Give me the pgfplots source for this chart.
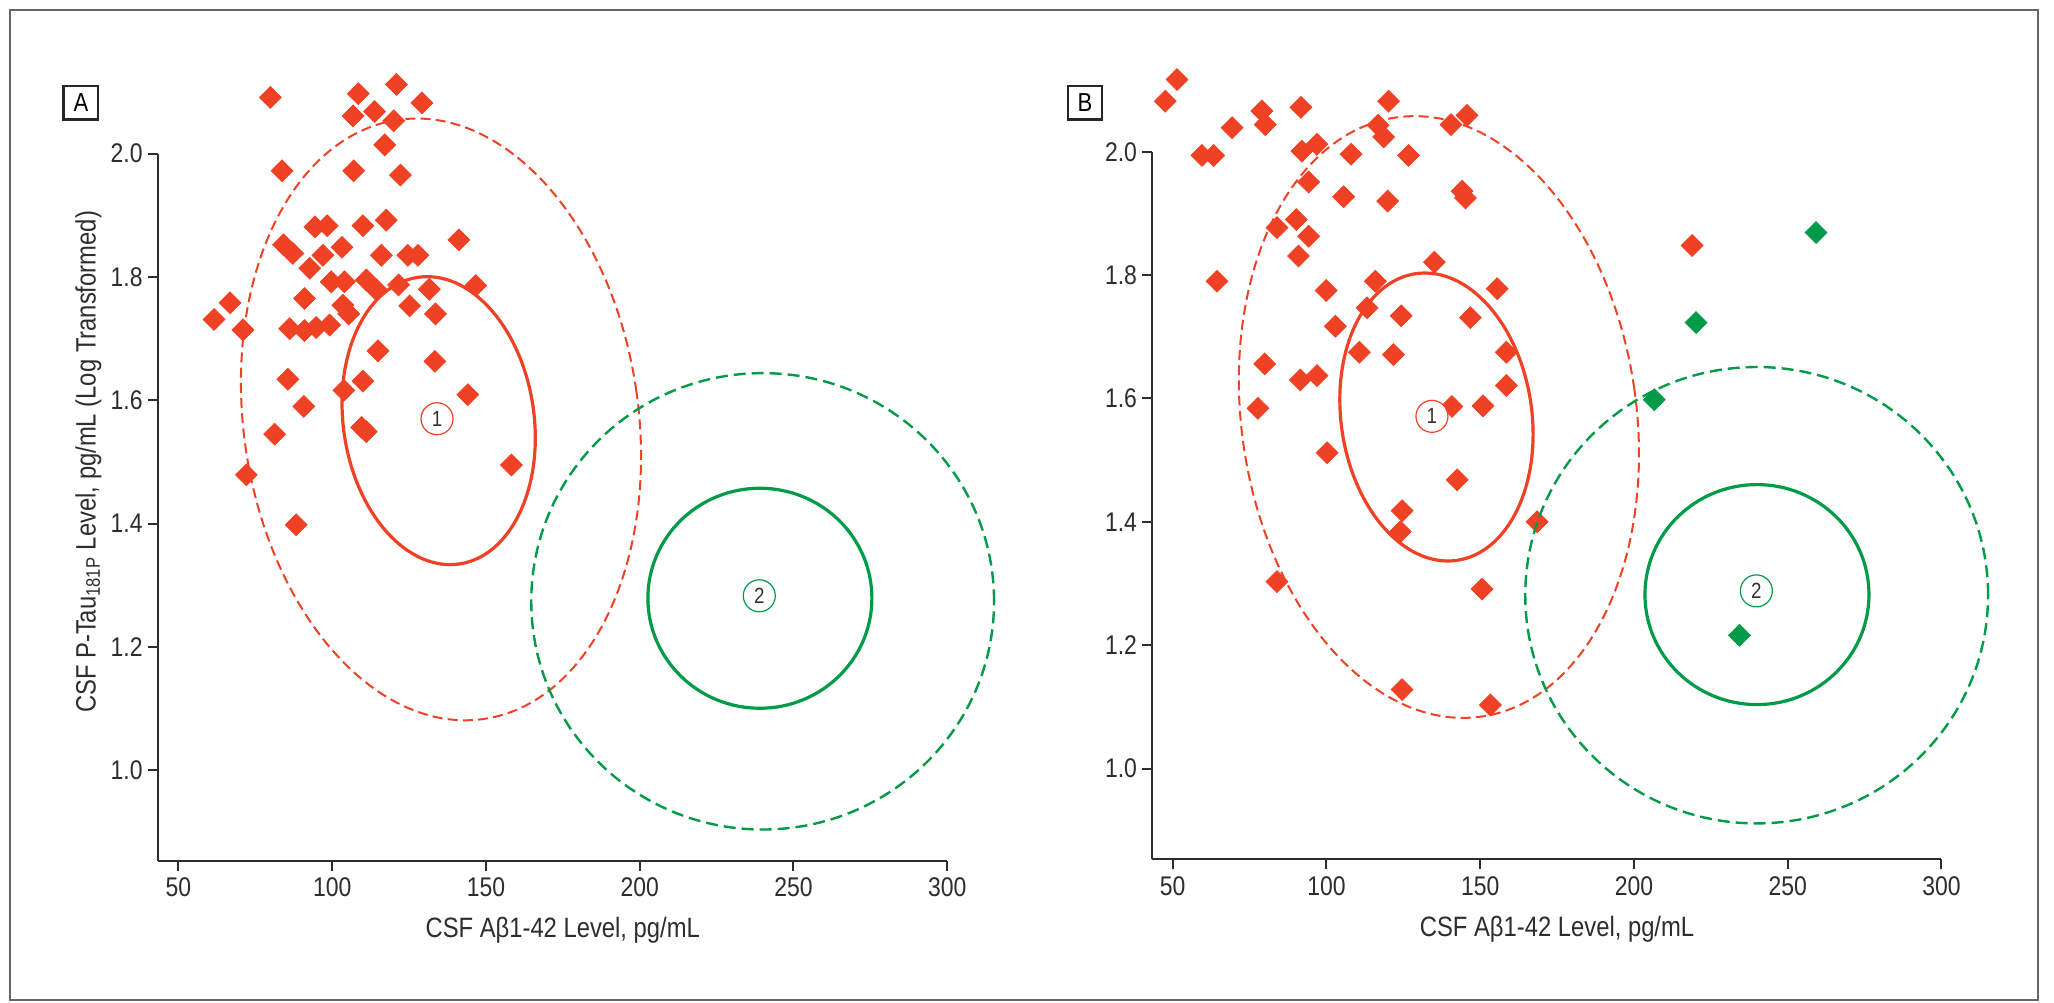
\documentclass[border=0pt]{standalone}
\usepackage{pgfplots}
\pgfplotsset{compat=1.18}
\usepackage{fontspec}
\setmainfont[FakeStretch=0.85]{Liberation Sans}
\definecolor{redm}{RGB}{239,65,35}
\definecolor{greenm}{RGB}{0,155,72}
\definecolor{axgray}{RGB}{45,45,45}

\pgfplotsset{
  panel/.style={
    x=1.5375pt, y=308.4pt,
    xmin=43.3, xmax=300, ymin=0.853, ymax=2.0,
    axis x line*=bottom, axis y line*=left,
    axis line style={line width=1.2pt, axgray, -},
    tick align=outside, major tick length=5pt,
    tick style={line width=1pt, axgray},
    xtick={50,100,150,200,250,300},
    ytick={1.0,1.2,1.4,1.6,1.8,2.0},
    /pgf/number format/assume math mode=true,
    ticklabel style={font=\fontsize{13.5}{15}\selectfont, text=axgray},
    yticklabel style={/tikz/inner xsep=2.4pt, /pgf/number format/.cd, fixed, fixed zerofill, precision=1},
    clip=false,
    xlabel style={font=\fontsize{14}{16}\selectfont, text=axgray, at={(axis description cs:0.513,-0.1088)}, anchor=base},
    ylabel style={font=\fontsize{14}{16}\selectfont, text=axgray, at={(axis description cs:-0.0788,0.564)}, anchor=base},
    xlabel={CSF Aβ1-42 Level, pg/mL},
  },
  redpts/.style={redm, only marks, mark=square*, mark size=3.85pt, mark options={rotate=45, draw=redm, fill=redm, line width=0.4pt}},
  greenpts/.style={greenm, only marks, mark=square*, mark size=3.85pt, mark options={rotate=45, draw=greenm, fill=greenm, line width=0.4pt}},
}

\begin{document}
\begin{tikzpicture}
\useasboundingbox (0pt,0pt) rectangle (1027pt,501pt);
\fill[white] (0pt,0pt) rectangle (1027pt,501pt);
\draw[black!60, line width=1pt] (5pt,1pt) rectangle (1019pt,496pt);

% ---------------- Panel A ----------------
\begin{axis}[panel, at={(78.9pt,70.5pt)}, anchor=south west,
  ylabel={CSF P-Tau\textsubscript{181P} Level, pg/mL (Log Transformed)}]
\addplot[redpts] table[row sep=\\] {
x y\\
79.9 2.091\\ 108.5 2.097\\ 120.9 2.112\\ 129.2 2.082\\ 106.8 2.061\\
113.8 2.068\\ 120.0 2.053\\ 117.1 2.014\\ 83.7 1.972\\ 107.0 1.972\\
122.2 1.965\\ 94.4 1.881\\ 98.4 1.883\\ 110.0 1.883\\ 117.6 1.892\\
141.2 1.860\\ 84.2 1.852\\ 87.2 1.838\\ 97.0 1.835\\ 103.2 1.848\\
116.0 1.835\\ 124.6 1.835\\ 127.9 1.835\\ 92.7 1.814\\ 99.7 1.792\\
104.0 1.792\\ 111.1 1.795\\ 114.4 1.779\\ 121.6 1.787\\ 131.6 1.780\\
146.7 1.786\\ 91.0 1.765\\ 66.8 1.758\\ 61.6 1.731\\ 71.0 1.714\\
86.2 1.716\\ 91.0 1.713\\ 94.8 1.718\\ 99.2 1.722\\ 103.5 1.754\\
105.4 1.740\\ 125.2 1.753\\ 133.6 1.740\\ 114.9 1.680\\ 133.4 1.663\\
85.6 1.634\\ 110.0 1.631\\ 103.8 1.616\\ 144.1 1.609\\ 90.8 1.590\\
81.3 1.545\\ 111.1 1.549\\ 109.6 1.556\\ 158.3 1.495\\ 72.1 1.479\\
88.3 1.398\\
};
\coordinate (rA1) at (axis cs:134.65,1.567);
\coordinate (rA2) at (axis cs:135.4,1.569);
\coordinate (lA1) at (axis cs:134.1,1.570);
\coordinate (gA1) at (axis cs:239.1,1.279);
\coordinate (gA2) at (axis cs:240.0,1.274);
\coordinate (lA2) at (axis cs:238.9,1.283);
\end{axis}

% ---------------- Panel B ----------------
\begin{axis}[panel, at={(576.05pt,71.4pt)}, anchor=south west]
\addplot[redpts] table[row sep=\\] {
x y\\
51.4 2.117\\ 47.6 2.082\\ 69.3 2.039\\ 79.0 2.066\\ 80.1 2.044\\
91.7 2.072\\ 120.2 2.082\\ 116.8 2.043\\ 118.6 2.024\\ 140.5 2.044\\
145.7 2.059\\ 59.5 1.994\\ 63.3 1.994\\ 92.0 2.001\\ 96.9 2.012\\
108.0 1.996\\ 126.7 1.994\\ 94.2 1.951\\ 105.6 1.927\\ 119.9 1.920\\
144.1 1.936\\ 145.2 1.925\\ 83.9 1.877\\ 90.2 1.890\\ 94.2 1.863\\
90.9 1.831\\ 64.4 1.790\\ 99.9 1.775\\ 115.9 1.790\\ 135.1 1.821\\
155.5 1.778\\ 113.2 1.747\\ 124.3 1.734\\ 146.8 1.731\\ 102.9 1.717\\
110.7 1.675\\ 121.8 1.671\\ 158.5 1.675\\ 79.9 1.656\\ 91.5 1.630\\
96.9 1.637\\ 158.5 1.621\\ 77.7 1.584\\ 140.8 1.587\\ 150.9 1.588\\
100.2 1.512\\ 142.5 1.468\\ 124.6 1.418\\ 124.0 1.384\\ 168.5 1.400\\
83.9 1.303\\ 150.6 1.291\\ 124.6 1.128\\ 153.3 1.103\\ 218.9 1.848\\
};
\addplot[greenpts] table[row sep=\\] {
x y\\
259.2 1.869\\ 220.2 1.723\\ 206.6 1.598\\ 234.3 1.216\\
};
\coordinate (rB1) at (axis cs:135.8,1.570);
\coordinate (rB2) at (axis cs:136.6,1.570);
\coordinate (lB1) at (axis cs:134.3,1.571);
\coordinate (gB1) at (axis cs:240.0,1.282);
\coordinate (gB2) at (axis cs:239.9,1.281);
\coordinate (lB2) at (axis cs:239.8,1.288);
\end{axis}

% ---------------- Ellipses ----------------
\foreach \p in {A,B}{
  \draw[redm, line width=1.6pt, rotate around={8.1:(r\p1)}] (r\p1) ellipse [x radius=47.7pt, y radius=72.4pt];
  \draw[redm, line width=1pt, dash pattern=on 5pt off 2.6pt, rotate around={8.1:(r\p2)}] (r\p2) ellipse [x radius=98.7pt, y radius=151.3pt];
  \draw[greenm, line width=1.6pt] (g\p1) ellipse [x radius=56pt, y radius=55pt];
  \draw[greenm, line width=1.2pt, dash pattern=on 6pt off 3pt] (g\p2) ellipse [x radius=115.7pt, y radius=114.1pt];
  \node[circle, draw=redm, fill=white, line width=0.6pt, minimum size=16pt, inner sep=0pt, font=\fontsize{11}{12}\selectfont, text=black!80] at (l\p1) {1};
  \node[circle, draw=greenm, fill=white, line width=0.6pt, minimum size=16pt, inner sep=0pt, font=\fontsize{11}{12}\selectfont, text=black!80] at (l\p2) {2};
}

% ---------------- Panel letters ----------------
\node[draw=black!85, line width=1.1pt, minimum width=17.35pt, minimum height=16.6pt, inner sep=0pt, font=\fontsize{13}{14}\selectfont] at (40.45pt,449.55pt) {A};
\node[draw=black!85, line width=1.1pt, minimum width=17.35pt, minimum height=16.6pt, inner sep=0pt, font=\fontsize{13}{14}\selectfont] at (542.5pt,449.55pt) {B};
\end{tikzpicture}
\end{document}
